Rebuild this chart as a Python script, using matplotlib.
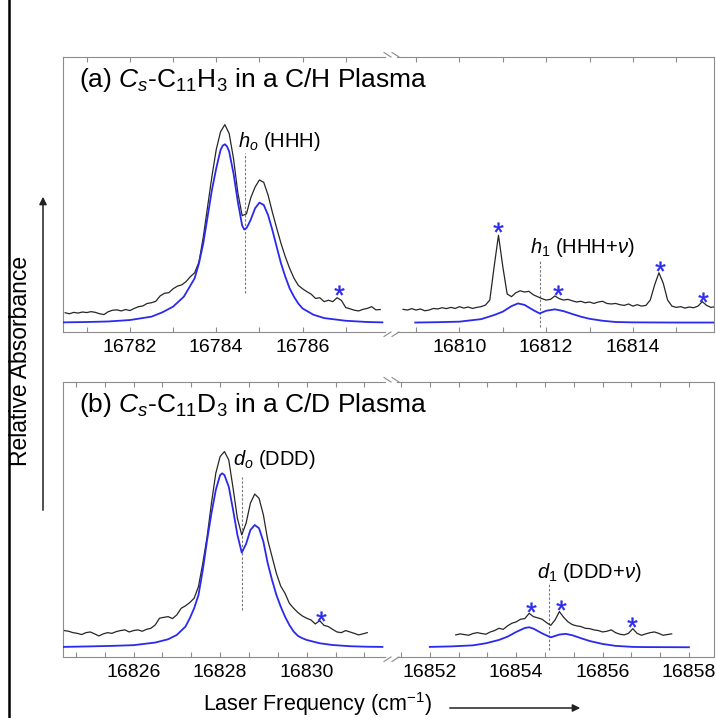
import numpy as np
import matplotlib
matplotlib.use("Agg")
import matplotlib.pyplot as plt
from matplotlib.lines import Line2D
from matplotlib.patches import FancyArrowPatch
from matplotlib.ticker import FixedLocator, FormatStrFormatter, NullFormatter

plt.rcParams['font.family'] = ['Liberation Sans', 'DejaVu Sans']
plt.rcParams['mathtext.fontset'] = 'custom'
plt.rcParams['mathtext.rm'] = 'Liberation Sans'
plt.rcParams['mathtext.it'] = 'Liberation Sans:italic'
plt.rcParams['mathtext.bf'] = 'Liberation Sans:bold'

# ---------------- (a) C11H3, C/H plasma ----------------
# simulated origin band h0 (blue)
h0_sim_x = [16780.45, 16781.0, 16781.5, 16782.0, 16782.5, 16782.75, 16783.0, 16783.25,
            16783.5, 16783.6, 16783.7, 16783.8, 16783.9, 16784.0, 16784.1, 16784.15,
            16784.2, 16784.25, 16784.3, 16784.4, 16784.5, 16784.6, 16784.65, 16784.7,
            16784.75, 16784.8, 16784.9, 16785.0, 16785.1, 16785.2, 16785.3, 16785.4,
            16785.5, 16785.6, 16785.7, 16785.8, 16785.9, 16786.0, 16786.25, 16786.5,
            16787.0, 16787.5, 16787.85]
h0_sim_y = [0.002, 0.004, 0.007, 0.015, 0.034, 0.058, 0.090, 0.146,
            0.249, 0.333, 0.445, 0.594, 0.744, 0.865, 0.968, 0.992,
            1.000, 0.988, 0.959, 0.837, 0.678, 0.545, 0.522, 0.530,
            0.552, 0.578, 0.641, 0.673, 0.660, 0.604, 0.520, 0.426,
            0.333, 0.258, 0.193, 0.146, 0.108, 0.080, 0.045, 0.026,
            0.011, 0.004, 0.002]
# measured trace, 0.1 cm-1 steps from 16780.5
h0_exp_start = 16780.5
h0_exp_y = [0.056, 0.050, 0.058, 0.054, 0.060, 0.057, 0.062, 0.058, 0.050, 0.046,
            0.062, 0.070, 0.072, 0.066, 0.074, 0.068, 0.080, 0.090, 0.094, 0.108,
            0.112, 0.120, 0.150, 0.165, 0.168, 0.190, 0.205, 0.212, 0.230, 0.258,
            0.280, 0.340, 0.480, 0.650, 0.820, 0.970, 1.070, 1.110, 1.060, 0.920,
            0.730, 0.600, 0.610, 0.700, 0.760, 0.800, 0.787, 0.716, 0.620, 0.530,
            0.445, 0.370, 0.305, 0.250, 0.210, 0.190, 0.174, 0.160, 0.136, 0.140,
            0.118, 0.126, 0.118, 0.140, 0.125, 0.085, 0.078, 0.070, 0.066, 0.075,
            0.080, 0.090, 0.072, 0.074]

# simulated hot band h1 (blue)
h1_sim_x = [16808.98, 16809.5, 16810.0, 16810.5, 16810.8, 16811.0, 16811.2, 16811.35,
            16811.5, 16811.7, 16811.85, 16812.0, 16812.2, 16812.4, 16812.6, 16812.8,
            16813.0, 16813.3, 16813.6, 16814.0, 16815.0, 16815.87]
h1_sim_y = [0.001, 0.003, 0.006, 0.020, 0.043, 0.062, 0.093, 0.108,
            0.100, 0.071, 0.052, 0.067, 0.075, 0.065, 0.049, 0.034,
            0.022, 0.011, 0.004, 0.002, 0.001, 0.001]
h1_exp_start = 16808.7
h1_exp_y = [0.075, 0.071, 0.079, 0.071, 0.077, 0.067, 0.071, 0.080, 0.077, 0.084,
            0.079, 0.086, 0.080, 0.090, 0.082, 0.088, 0.080, 0.086, 0.090, 0.099,
            0.127, 0.314, 0.490, 0.314, 0.161, 0.146, 0.168, 0.179, 0.172, 0.176,
            0.157, 0.146, 0.135, 0.127, 0.131, 0.150, 0.135, 0.127, 0.131, 0.123,
            0.116, 0.120, 0.112, 0.116, 0.108, 0.116, 0.120, 0.108, 0.105, 0.108,
            0.101, 0.097, 0.105, 0.093, 0.101, 0.093, 0.097, 0.127, 0.211, 0.280,
            0.221, 0.127, 0.093, 0.086, 0.090, 0.082, 0.088, 0.084, 0.093, 0.118,
            0.097, 0.086, 0.090]
h_star_x = [16786.85, 16810.9, 16812.27, 16814.62, 16815.62]
h_star_y = [0.183, 0.535, 0.183, 0.318, 0.146]
h_origin_pos = 16784.66
h_hot_pos = 16811.85

# ---------------- (b) C11D3, C/D plasma ----------------
d0_sim_x = [16824.37, 16825.0, 16825.5, 16826.0, 16826.5, 16826.8, 16827.0, 16827.2,
            16827.3, 16827.4, 16827.5, 16827.6, 16827.7, 16827.8, 16827.9, 16828.0,
            16828.05, 16828.1, 16828.2, 16828.3, 16828.4, 16828.5, 16828.6, 16828.7,
            16828.8, 16828.9, 16829.0, 16829.1, 16829.2, 16829.3, 16829.4, 16829.5,
            16829.6, 16829.7, 16829.8, 16829.9, 16830.0, 16830.3, 16830.6, 16831.0,
            16831.4, 16831.75]
d0_sim_y = [0.002, 0.005, 0.008, 0.012, 0.027, 0.046, 0.071, 0.119,
            0.167, 0.224, 0.300, 0.444, 0.617, 0.770, 0.904, 0.990,
            1.000, 0.990, 0.923, 0.789, 0.646, 0.544, 0.594, 0.674,
            0.703, 0.684, 0.607, 0.483, 0.387, 0.301, 0.234, 0.176,
            0.128, 0.090, 0.065, 0.052, 0.042, 0.023, 0.013, 0.006,
            0.003, 0.002]
d0_exp_start = 16824.4
d0_exp_y = [0.096, 0.092, 0.084, 0.080, 0.073, 0.084, 0.088, 0.077, 0.065, 0.077,
            0.084, 0.080, 0.090, 0.096, 0.100, 0.088, 0.096, 0.100, 0.092, 0.103,
            0.109, 0.128, 0.167, 0.172, 0.176, 0.165, 0.186, 0.224, 0.238, 0.257,
            0.282, 0.349, 0.483, 0.636, 0.828, 1.000, 1.096, 1.125, 1.077, 0.914,
            0.741, 0.646, 0.713, 0.828, 0.881, 0.856, 0.761, 0.617, 0.521, 0.425,
            0.352, 0.310, 0.253, 0.224, 0.199, 0.180, 0.167, 0.157, 0.134, 0.153,
            0.126, 0.119, 0.103, 0.088, 0.084, 0.096, 0.088, 0.080, 0.071, 0.077,
            0.084]

d1_sim_x = [16852.0, 16852.5, 16853.0, 16853.3, 16853.6, 16853.8, 16854.0, 16854.2,
            16854.3, 16854.4, 16854.6, 16854.8, 16855.0, 16855.15, 16855.3, 16855.5,
            16855.7, 16856.0, 16856.3, 16856.7, 16857.0, 16858.0]
d1_sim_y = [0.002, 0.005, 0.011, 0.023, 0.042, 0.061, 0.088, 0.111,
            0.115, 0.107, 0.080, 0.057, 0.073, 0.077, 0.069, 0.052,
            0.036, 0.019, 0.008, 0.002, 0.001, 0.000]
d1_exp_start = 16852.6
d1_exp_y = [0.071, 0.077, 0.073, 0.069, 0.079, 0.084, 0.079, 0.075, 0.088, 0.096,
            0.109, 0.103, 0.123, 0.138, 0.146, 0.161, 0.165, 0.195, 0.176, 0.169,
            0.161, 0.142, 0.126, 0.157, 0.205, 0.172, 0.146, 0.130, 0.123, 0.119,
            0.109, 0.107, 0.100, 0.096, 0.088, 0.092, 0.100, 0.084, 0.075, 0.071,
            0.080, 0.107, 0.080, 0.069, 0.077, 0.084, 0.088, 0.080, 0.069, 0.073,
            0.077]
d_star_x = [16830.33, 16854.34, 16855.03, 16856.69]
d_star_y = [0.182, 0.234, 0.241, 0.146]
d_origin_pos = 16828.51
d_hot_pos = 16854.76

STEP = 0.1

# ---------------- figure ----------------
W, H = 716, 718
fig = plt.figure(figsize=(W / 100, H / 100), dpi=100)


def rect(x0, x1, y0, y1):
    return [x0 / W, 1 - y1 / H, (x1 - x0) / W, (y1 - y0) / H]


def fx(px):
    return px / W


def fy(py):
    return 1 - py / H


FRAME = '#8c8c8c'
BLUE = '#2a2aee'
DARK = '#262626'
GUIDE = '#777777'


def make_axes(r, xlim, ylim, side, majors, minors):
    ax = fig.add_axes(r)
    ax.set_xlim(*xlim)
    ax.set_ylim(*ylim)
    ax.set_yticks([])
    for s in ax.spines.values():
        s.set_color(FRAME)
        s.set_linewidth(0.8)
    ax.spines['right' if side == 'left' else 'left'].set_visible(False)
    ax.xaxis.set_major_locator(FixedLocator(majors))
    ax.xaxis.set_minor_locator(FixedLocator(minors))
    ax.xaxis.set_major_formatter(FormatStrFormatter('%d'))
    ax.xaxis.set_minor_formatter(NullFormatter())
    ax.tick_params(axis='x', which='both', direction='in', top=True, bottom=True,
                   color=FRAME, width=0.8, length=3.5, labelsize=14, pad=5,
                   labelcolor='black')
    ax.patch.set_alpha(0)
    return ax


def draw_segment(ax, sim_x, sim_y, exp_start, exp_y, stars_x, stars_y):
    xs = exp_start + STEP * np.arange(len(exp_y))
    ax.plot(xs, exp_y, color=DARK, lw=0.9, zorder=2)
    ax.plot(sim_x, sim_y, color=BLUE, lw=1.3, zorder=3)
    lo, hi = ax.get_xlim()
    sx = [x for x in stars_x if lo <= x <= hi]
    sy = [y for x, y in zip(stars_x, stars_y) if lo <= x <= hi]
    ax.plot(sx, sy, ls='none', marker='$*$', ms=7, color=BLUE, mew=0.3, zorder=4)


def guide(ax, x, y0, y1):
    ax.plot([x, x], [y0, y1], color=GUIDE, lw=0.8, ls=(0, (2.2, 1.6)), zorder=1)


# (a) panel: y 57..332 px
ylim_a = (-0.052, 1.489)
ax_a1 = make_axes(rect(63, 385, 57, 332), (16780.45, 16787.91), ylim_a, 'left',
                  [16782, 16784, 16786], [16781, 16783, 16785, 16787])
ax_a2 = make_axes(rect(397, 714, 57, 332), (16808.56, 16815.87), ylim_a, 'right',
                  [16810, 16812, 16814], [16809, 16811, 16813, 16815])
draw_segment(ax_a1, h0_sim_x, h0_sim_y, h0_exp_start, h0_exp_y, h_star_x, h_star_y)
draw_segment(ax_a2, h1_sim_x, h1_sim_y, h1_exp_start, h1_exp_y, h_star_x, h_star_y)
guide(ax_a1, h_origin_pos, 0.168, 0.95)
guide(ax_a2, h_hot_pos, -0.025, 0.351)
ax_a1.text(16784.51, 0.987, r"$h_o$ (HHH)", fontsize=14.5, ha='left', va='baseline')
ax_a2.text(16811.63, 0.392, r"$h_{1}$ (HHH+$\nu$)", fontsize=14.5, ha='left', va='baseline')

# (b) panel: y 382..657 px
ylim_b = (-0.056, 1.525)
minors_b1 = [16824 + k * 2 / 3 for k in range(1, 12) if k % 3 != 0]
minors_b2 = [16850 + k * 2 / 3 for k in range(1, 14) if k % 3 != 0]
ax_b1 = make_axes(rect(63, 385, 382, 657), (16824.37, 16831.81), ylim_b, 'left',
                  [16826, 16828, 16830], minors_b1)
ax_b2 = make_axes(rect(397, 714, 382, 657), (16851.24, 16858.58), ylim_b, 'right',
                  [16852, 16854, 16856, 16858], minors_b2)
draw_segment(ax_b1, d0_sim_x, d0_sim_y, d0_exp_start, d0_exp_y, d_star_x, d_star_y)
draw_segment(ax_b2, d1_sim_x, d1_sim_y, d1_exp_start, d1_exp_y, d_star_x, d_star_y)
guide(ax_b1, d_origin_pos, 0.215, 0.98)
guide(ax_b2, d_hot_pos, -0.018, 0.37)
ax_b1.text(16828.29, 1.048, r"$d_o$ (DDD)", fontsize=14.5, ha='left', va='baseline')
ax_b2.text(16854.48, 0.397, r"$d_{1}$ (DDD+$\nu$)", fontsize=14.5, ha='left', va='baseline')

# panel titles
fig.text(fx(79), fy(87), r"(a) $C_s$-C$_{11}$H$_3$ in a C/H Plasma", fontsize=19,
         ha='left', va='baseline', zorder=10)
fig.text(fx(79), fy(412), r"(b) $C_s$-C$_{11}$D$_3$ in a C/D Plasma", fontsize=19,
         ha='left', va='baseline', zorder=10)


# axis-break marks
def break_marks(y_top, y_bot):
    for yb, sgn in ((y_top, -1), (y_bot, 1)):
        for x0 in (384, 392):
            fig.add_artist(Line2D([fx(x0), fx(x0 + 7)], [fy(yb + sgn * 4.5), fy(yb)],
                                  transform=fig.transFigure, color=FRAME, lw=0.8))


break_marks(57, 332)
break_marks(382, 657)

# axis labels and direction arrows
fig.text(fx(21), fy(361), "Relative Absorbance", rotation=90, fontsize=16.5,
         ha='center', va='center')
fig.text(fx(203), fy(711.5), r"Laser Frequency (cm$^{-1}$)", fontsize=15.5,
         ha='left', va='baseline')
fig.add_artist(FancyArrowPatch((fx(43), fy(513)), (fx(43), fy(194)),
                               transform=fig.transFigure, arrowstyle='-|>',
                               mutation_scale=11, color='#222222', lw=1.1))
fig.add_artist(FancyArrowPatch((fx(447), fy(708)), (fx(583), fy(708)),
                               transform=fig.transFigure, arrowstyle='-|>',
                               mutation_scale=11, color='#222222', lw=1.1))
# outer left rule
fig.add_artist(Line2D([fx(8.5), fx(8.5)], [0, 1], transform=fig.transFigure,
                      color='black', lw=1.8))

fig.savefig("out.png", dpi=100)
